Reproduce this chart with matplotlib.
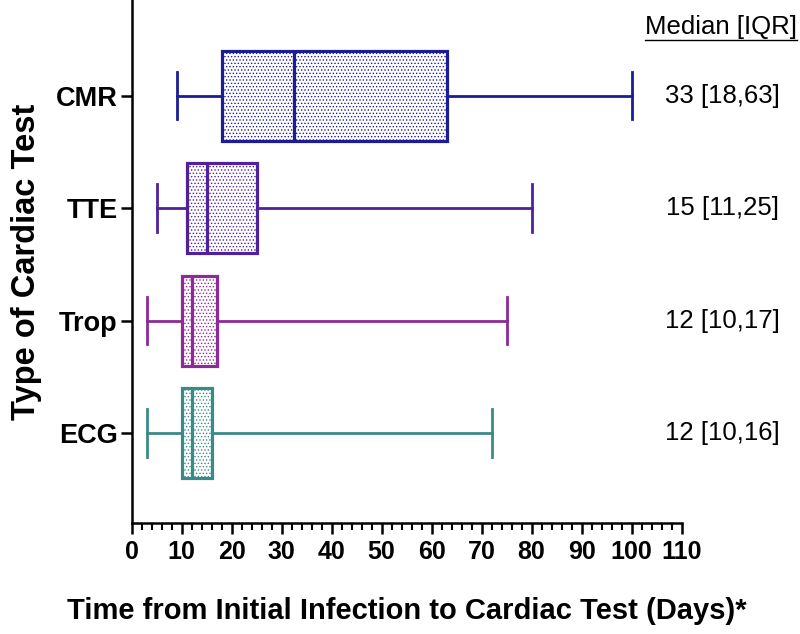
import numpy as np
import matplotlib
matplotlib.use('Agg')
import matplotlib.pyplot as plt

plt.rcParams['hatch.linewidth'] = 0.6

# data (days), bottom to top
tests = ['ECG', 'Trop', 'TTE', 'CMR']
wmin = [3, 3, 5, 9]
q1 = [10, 10, 11, 18]
med = [12, 12, 15, 32.5]
q3 = [16, 17, 25, 63]
wmax = [72, 75, 80, 100]
iqr_labels = ['12 [10,16]', '12 [10,17]', '15 [11,25]', '33 [18,63]']
colors = ['#3a8a88', '#8c2a98', '#4d229c', '#1c1c94']

fig = plt.figure(figsize=(8, 6.34), dpi=100)
ax = fig.add_axes([0.1645, 0.175, 0.6875, 0.825])

for i in range(len(tests)):
    c = colors[i]
    st = dict(whislo=wmin[i], q1=q1[i], med=med[i], q3=q3[i],
              whishi=wmax[i], fliers=[], label=tests[i])
    bp = ax.bxp([st], positions=[i], vert=False, widths=0.8,
                patch_artist=True, showfliers=False,
                boxprops=dict(facecolor='white', edgecolor=c, linewidth=2.3, hatch='.....'),
                medianprops=dict(color=c, linewidth=2.3),
                whiskerprops=dict(color=c, linewidth=2.0),
                capprops=dict(color=c, linewidth=2.0),
                capwidths=0.42)
    for b in bp['boxes']:
        b.set_zorder(3)
    for m in bp['medians']:
        m.set_zorder(4)
    # median [IQR] column on the right
    ax.text(1.0 + 41 / 550, i, iqr_labels[i], transform=ax.get_yaxis_transform(),
            ha='center', va='center', fontsize=18.5, family='Liberation Sans',
            clip_on=False)

fig.text(721 / 800, 1 - 27 / 634, 'Median [IQR]', ha='center', va='center',
         fontsize=18.5, family='Liberation Sans')
fig.add_artist(plt.Line2D([645 / 800, 797 / 800], [1 - 40 / 634, 1 - 40 / 634],
                          color='black', linewidth=1.0))

ax.set_xlim(0, 110)
ax.set_ylim(-0.8, 3.85)
ax.set_xticks(np.arange(0, 111, 10))
ax.set_xticks(np.arange(0, 111, 2), minor=True)
ax.set_yticks(range(len(tests)))
ax.set_yticklabels(tests)

for lab in ax.get_xticklabels():
    lab.set_fontweight('bold')
    lab.set_fontsize(18)
    lab.set_family('Liberation Sans')
for lab in ax.get_yticklabels():
    lab.set_fontweight('bold')
    lab.set_fontsize(19.5)
    lab.set_family('Liberation Sans')

ax.tick_params(axis='x', which='major', length=8, width=1.8, pad=4)
ax.tick_params(axis='x', which='minor', length=5, width=1.5)
ax.tick_params(axis='y', which='major', length=8, width=1.8, pad=2)

for s in ['top', 'right']:
    ax.spines[s].set_visible(False)
for s in ['left', 'bottom']:
    ax.spines[s].set_linewidth(1.8)

ax.set_xlabel('Time from Initial Infection to Cardiac Test (Days)*',
              fontsize=21, fontweight='bold', family='Liberation Sans',
              labelpad=24)
ax.set_ylabel('Type of Cardiac Test', fontsize=23.5, fontweight='bold',
              family='Liberation Sans', labelpad=10)

fig.savefig('out.png', dpi=100)
